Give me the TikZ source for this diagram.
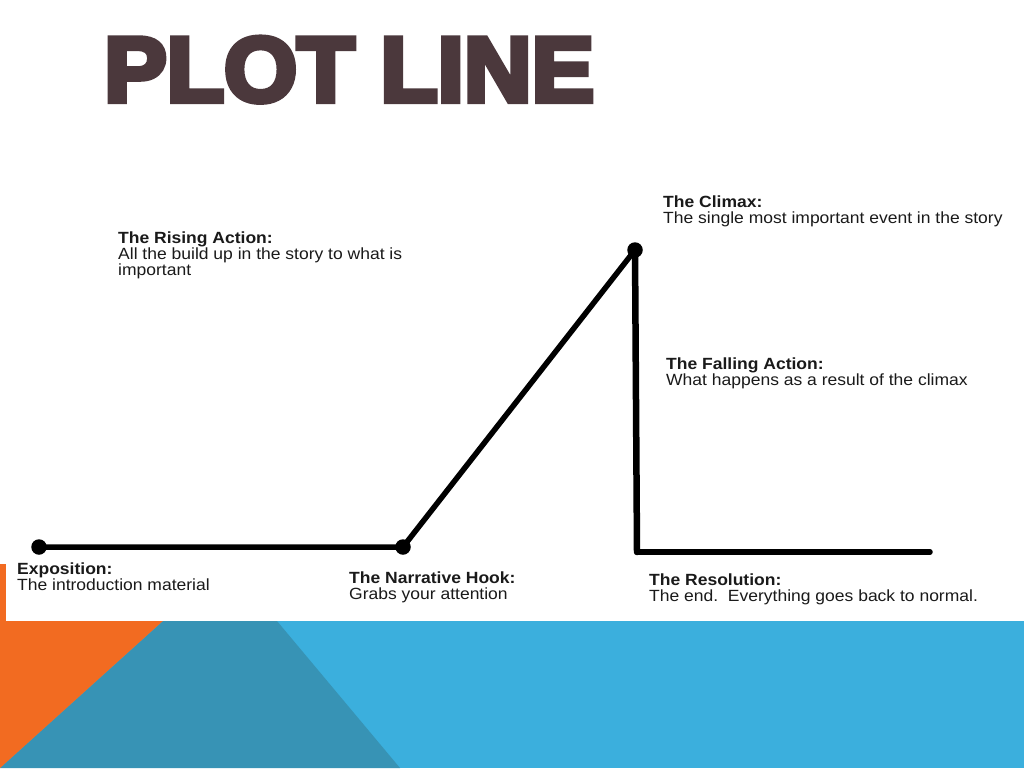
\documentclass[tikz,border=0pt]{standalone}
\usepackage{graphicx}
\usepackage{fontspec}
\setmainfont{Liberation Sans}
\newfontfamily\lblfont[FakeStretch=1.08]{Liberation Sans}
\newfontfamily\titlefont[BoldFeatures={FakeBold=6}]{Liberation Sans}
\definecolor{titlecol}{HTML}{4B383C}
\definecolor{orangec}{HTML}{F26B21}
\definecolor{darkblue}{HTML}{3793B5}
\definecolor{lightblue}{HTML}{3BAFDD}
\definecolor{inkc}{HTML}{1A1A1A}
\begin{document}
\begin{tikzpicture}[x=1pt,y=-1pt,
  plotline/.style={line width=5.5pt,line cap=round,line join=round,black},
  dotnode/.style={circle,fill=black,inner sep=0pt,minimum size=15.5pt},
  lbl/.style={anchor=base west,inner sep=0pt,font=\lblfont\fontsize{16.2}{16}\selectfont,text=inkc},
]
\useasboundingbox (0,0) rectangle (1024,768);
\fill[white] (0,0) rectangle (1024,768);
\fill[lightblue] (0,621) rectangle (1024,768);
\fill[darkblue] (0,768) -- (163,621) -- (277,621) -- (400,768) -- cycle;
\fill[orangec] (0,564) -- (226,564) -- (0,768) -- cycle;
\fill[white] (6,140) rectangle (1024,621);

\node[anchor=north west, inner sep=0pt, text=titlecol] (title) at (104,37)
  {\resizebox{490pt}{64pt}{\titlefont\bfseries PLOT LINE}};

\node[dotnode] (expo) at (39,547) {};
\node[dotnode] (hook) at (403,547) {};
\node[dotnode] (climax) at (635,250) {};
\coordinate (corner) at (637,552);
\coordinate (resend) at (930,552);
\draw[plotline] (expo.center) -- (hook.center) -- (climax.center);
\draw[plotline, line width=6.5pt] (climax.center) -- (corner);
\draw[plotline] (corner) -- (resend);

\node[lbl] (lrising) at (118,243.7) {\vtop{\hbox{\bfseries The Rising Action:}\hbox{All the build up in the story to what is}\hbox{important}}};
\node[lbl] (lclimax) at (663,207.3) {\vtop{\hbox{\bfseries The Climax:}\hbox{The single most important event in the story}}};
\node[lbl] (lfalling) at (666,369.3) {\vtop{\hbox{\bfseries The Falling Action:}\hbox{What happens as a result of the climax}}};
\node[lbl] (lexpo) at (17,574.5) {\vtop{\hbox{\bfseries Exposition:}\hbox{The introduction material}}};
\node[lbl] (lhook) at (349,583) {\vtop{\hbox{\bfseries The Narrative Hook:}\hbox{Grabs your attention}}};
\node[lbl] (lres) at (649,585.3) {\vtop{\hbox{\bfseries The Resolution:}\hbox{The end.\ \ Everything goes back to normal.}}};
\end{tikzpicture}
\end{document}
